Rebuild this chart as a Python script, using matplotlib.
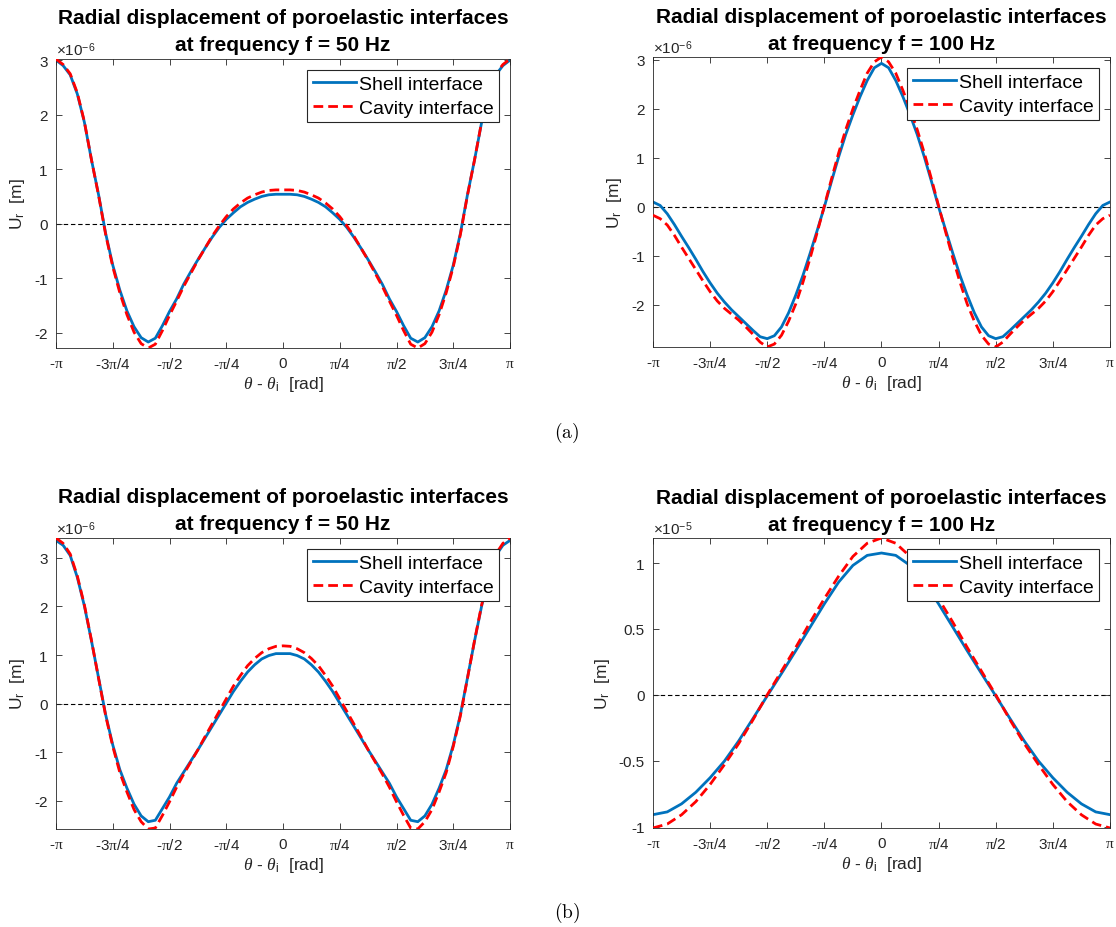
"""Radial displacement of the poroelastic interfaces at 50 Hz and 100 Hz,
   shell interface vs cavity interface, for two configurations (a) and (b)."""

import numpy as np
import matplotlib.pyplot as plt

plt.rcParams['font.family'] = ['Liberation Sans', 'DejaVu Sans']
plt.rcParams['mathtext.fontset'] = 'custom'
plt.rcParams['mathtext.rm'] = 'Liberation Sans'
plt.rcParams['mathtext.it'] = 'Liberation Serif:italic'
plt.rcParams['mathtext.tt'] = 'Liberation Serif'
plt.rcParams['axes.unicode_minus'] = False

# angle samples: steps of pi/32 for (a) and (b) 50 Hz and (a) 100 Hz, pi/16 for (b) 100 Hz
STEPS_FINE = list(range(-32, 33))
STEPS_COARSE = list(range(-16, 17))

# (a) 50 Hz, x1e-6 m
SHELL_A = [3.00, 2.90, 2.73, 2.38, 1.86, 1.17, 0.53, -0.18, -0.76, -1.22, -1.60, -1.89, -2.09,
           -2.17, -2.10, -1.87, -1.61, -1.38, -1.11, -0.88, -0.66, -0.45, -0.25, -0.07, 0.08,
           0.20, 0.31, 0.39, 0.45, 0.50, 0.53, 0.54, 0.54,
           0.54, 0.53, 0.50, 0.45, 0.39, 0.31, 0.20, 0.08, -0.07, -0.25, -0.45, -0.66, -0.88,
           -1.11, -1.38, -1.61, -1.87, -2.10, -2.17, -2.09, -1.89, -1.60, -1.22, -0.76, -0.18,
           0.53, 1.17, 1.86, 2.38, 2.73, 2.90, 3.00]
CAVITY_A = [3.02, 2.92, 2.75, 2.40, 1.87, 1.17, 0.52, -0.20, -0.79, -1.27, -1.67, -1.99, -2.20,
            -2.28, -2.21, -1.96, -1.68, -1.42, -1.15, -0.91, -0.67, -0.45, -0.23, -0.04, 0.13,
            0.27, 0.38, 0.47, 0.53, 0.58, 0.61, 0.62, 0.62,
            0.62, 0.61, 0.58, 0.53, 0.47, 0.38, 0.27, 0.13, -0.04, -0.23, -0.45, -0.67, -0.91,
            -1.15, -1.42, -1.68, -1.96, -2.21, -2.28, -2.20, -1.99, -1.67, -1.27, -0.79, -0.20,
            0.52, 1.17, 1.87, 2.40, 2.75, 2.92, 3.02]

# (a) 100 Hz, x1e-6 m
SHELL_B = [0.10, 0.03, -0.14, -0.36, -0.60, -0.83, -1.07, -1.32, -1.55, -1.76, -1.94, -2.10,
           -2.24, -2.38, -2.52, -2.65, -2.69, -2.63, -2.45, -2.16, -1.80, -1.40, -0.95, -0.48,
           0.00, 0.52, 1.02, 1.48, 1.88, 2.25, 2.58, 2.84, 2.93,
           2.84, 2.58, 2.25, 1.88, 1.48, 1.02, 0.52, 0.00, -0.48, -0.95, -1.40, -1.80, -2.16,
           -2.45, -2.63, -2.69, -2.65, -2.52, -2.38, -2.24, -2.10, -1.94, -1.76, -1.55, -1.32,
           -1.07, -0.83, -0.60, -0.36, -0.14, 0.03, 0.10]
CAVITY_B = [-0.17, -0.24, -0.37, -0.58, -0.82, -1.05, -1.28, -1.51, -1.73, -1.92, -2.07, -2.19,
            -2.31, -2.45, -2.60, -2.76, -2.86, -2.80, -2.62, -2.33, -1.98, -1.54, -1.05, -0.52,
            0.02, 0.57, 1.10, 1.58, 2.00, 2.38, 2.73, 2.96, 3.06,
            2.96, 2.73, 2.38, 2.00, 1.58, 1.10, 0.57, 0.02, -0.52, -1.05, -1.54, -1.98, -2.33,
            -2.62, -2.80, -2.86, -2.76, -2.60, -2.45, -2.31, -2.19, -2.07, -1.92, -1.73, -1.51,
            -1.28, -1.05, -0.82, -0.58, -0.37, -0.24, -0.17]

# (b) 50 Hz, x1e-6 m
SHELL_C = [3.36, 3.26, 3.05, 2.60, 2.01, 1.29, 0.53, -0.23, -0.85, -1.36, -1.74, -2.07, -2.31,
           -2.43, -2.40, -2.16, -1.92, -1.64, -1.41, -1.18, -0.95, -0.71, -0.47, -0.23, 0.01,
           0.25, 0.46, 0.65, 0.80, 0.92, 0.99, 1.03, 1.03,
           1.03, 0.99, 0.92, 0.80, 0.65, 0.46, 0.25, 0.01, -0.23, -0.47, -0.71, -0.95, -1.18,
           -1.41, -1.64, -1.92, -2.16, -2.40, -2.43, -2.31, -2.07, -1.74, -1.36, -0.85, -0.23,
           0.53, 1.29, 2.01, 2.60, 3.05, 3.26, 3.36]
CAVITY_C = [3.41, 3.30, 3.08, 2.63, 2.03, 1.30, 0.52, -0.25, -0.88, -1.42, -1.82, -2.18, -2.43,
            -2.58, -2.56, -2.30, -2.02, -1.72, -1.45, -1.20, -0.95, -0.68, -0.42, -0.16, 0.10,
            0.36, 0.58, 0.78, 0.93, 1.05, 1.13, 1.18, 1.19,
            1.18, 1.13, 1.05, 0.93, 0.78, 0.58, 0.36, 0.10, -0.16, -0.42, -0.68, -0.95, -1.20,
            -1.45, -1.72, -2.02, -2.30, -2.56, -2.58, -2.43, -2.18, -1.82, -1.42, -0.88, -0.25,
            0.52, 1.30, 2.03, 2.63, 3.08, 3.30, 3.41]

# (b) 100 Hz, x1e-5 m
SHELL_D = [-0.909, -0.888, -0.827, -0.739, -0.629, -0.503, -0.350, -0.180, -0.008, 0.162,
           0.335, 0.513, 0.690, 0.855, 0.982, 1.058, 1.076,
           1.058, 0.982, 0.855, 0.690, 0.513, 0.335, 0.162, -0.008, -0.180, -0.350, -0.503,
           -0.629, -0.739, -0.827, -0.888, -0.909]
CAVITY_D = [-1.01, -0.98, -0.91, -0.81, -0.68, -0.53, -0.37, -0.19, 0.00, 0.18, 0.36, 0.55,
            0.73, 0.90, 1.05, 1.15, 1.19,
            1.15, 1.05, 0.90, 0.73, 0.55, 0.36, 0.18, 0.00, -0.19, -0.37, -0.53, -0.68,
            -0.81, -0.91, -0.98, -1.01]

FREQS = [50, 100, 50, 100]
EXPONENTS = [-6, -6, -6, -5]
Y_TICKS = [[-2, -1, 0, 1, 2, 3], [-2, -1, 0, 1, 2, 3], [-2, -1, 0, 1, 2, 3],
           [-1, -0.5, 0, 0.5, 1]]
PI = '$\\mathtt{\\pi}$'
X_TICK_LABELS = ['-' + PI, '-3' + PI + '/4', '-' + PI + '/2', '-' + PI + '/4', '0',
                 PI + '/4', PI + '/2', '3' + PI + '/4', PI]

PANELS = [(STEPS_FINE, 32, SHELL_A, CAVITY_A), (STEPS_FINE, 32, SHELL_B, CAVITY_B),
          (STEPS_FINE, 32, SHELL_C, CAVITY_C), (STEPS_COARSE, 16, SHELL_D, CAVITY_D)]
AX_POS = [[0.0502, 0.6239, 0.4068, 0.3114], [0.5851, 0.6250, 0.4095, 0.3125],
          [0.0502, 0.1056, 0.4068, 0.3136], [0.5851, 0.1067, 0.4095, 0.3125]]
# distance (points) of the two title lines above the axes top, per panel
TITLE_OFFSETS = [(30.0, 10.6), (29.0, 9.6), (30.0, 10.6), (29.0, 9.6)]

DARK = '0.15'

fig = plt.figure(figsize=(11.16, 9.28), dpi=100)

for i, (steps, div, shell, cavity) in enumerate(PANELS):
    ax = fig.add_axes(AX_POS[i])
    theta = np.array(steps) * np.pi / div

    ax.axhline(0, color='k', linestyle='--', linewidth=0.8, dashes=(4, 2.5), zorder=1)
    ax.plot(theta, shell, color='#0072BD', linewidth=2, label='Shell interface', zorder=2,
            solid_joinstyle='round')
    ax.plot(theta, cavity, color='red', linestyle='--', linewidth=2,
            dashes=(3.5, 1.8), label='Cavity interface', zorder=3)

    ax.set_xlim(-np.pi, np.pi)
    ax.set_ylim(min(min(shell), min(cavity)), max(max(shell), max(cavity)))
    ax.set_xticks(np.linspace(-np.pi, np.pi, 9))
    ax.set_xticklabels(X_TICK_LABELS)
    ax.set_yticks(Y_TICKS[i])
    ax.set_yticklabels([f'{t:g}' for t in Y_TICKS[i]])

    ax.tick_params(direction='in', length=4, width=0.6, top=True, right=True,
                   labelsize=11, colors=DARK, pad=6)
    for spine in ax.spines.values():
        spine.set_color(DARK)
        spine.set_linewidth(0.6)

    ax.set_xlabel('$\\theta$ - $\\theta_{\\mathrm{i}}$  [rad]', fontsize=12.5, color=DARK,
                  labelpad=2)
    ax.set_ylabel('U$_{\\mathrm{r}}$  [m]', fontsize=12.5, color=DARK, labelpad=5)

    line1_off, line2_off = TITLE_OFFSETS[i]
    ax.annotate('Radial displacement of poroelastic interfaces', (0.5, 1),
                xycoords='axes fraction', xytext=(0, line1_off), textcoords='offset points',
                ha='center', va='center', fontsize=15, fontweight='bold')
    ax.annotate(f'at frequency f = {FREQS[i]} Hz', (0.5, 1),
                xycoords='axes fraction', xytext=(0, line2_off), textcoords='offset points',
                ha='center', va='center', fontsize=15, fontweight='bold')
    ax.text(0, 1.004, '$\\times$10$^{%d}$' % EXPONENTS[i], transform=ax.transAxes,
            ha='left', va='bottom', fontsize=11, color=DARK)

    leg = ax.legend(loc='upper right', fontsize=14, fancybox=False, framealpha=1,
                    edgecolor=DARK, borderaxespad=0.55, borderpad=0.3,
                    labelspacing=0.3, handlelength=2.2, handletextpad=0.15)
    leg.get_frame().set_linewidth(0.8)

fig.text(0.508, 1 - 433 / 928, '$\\mathrm{(a)}$', math_fontfamily='cm', fontsize=14,
         ha='center', va='center')
fig.text(0.508, 1 - 913 / 928, '$\\mathrm{(b)}$', math_fontfamily='cm', fontsize=14,
         ha='center', va='center')

fig.savefig('out.png', dpi=100)
